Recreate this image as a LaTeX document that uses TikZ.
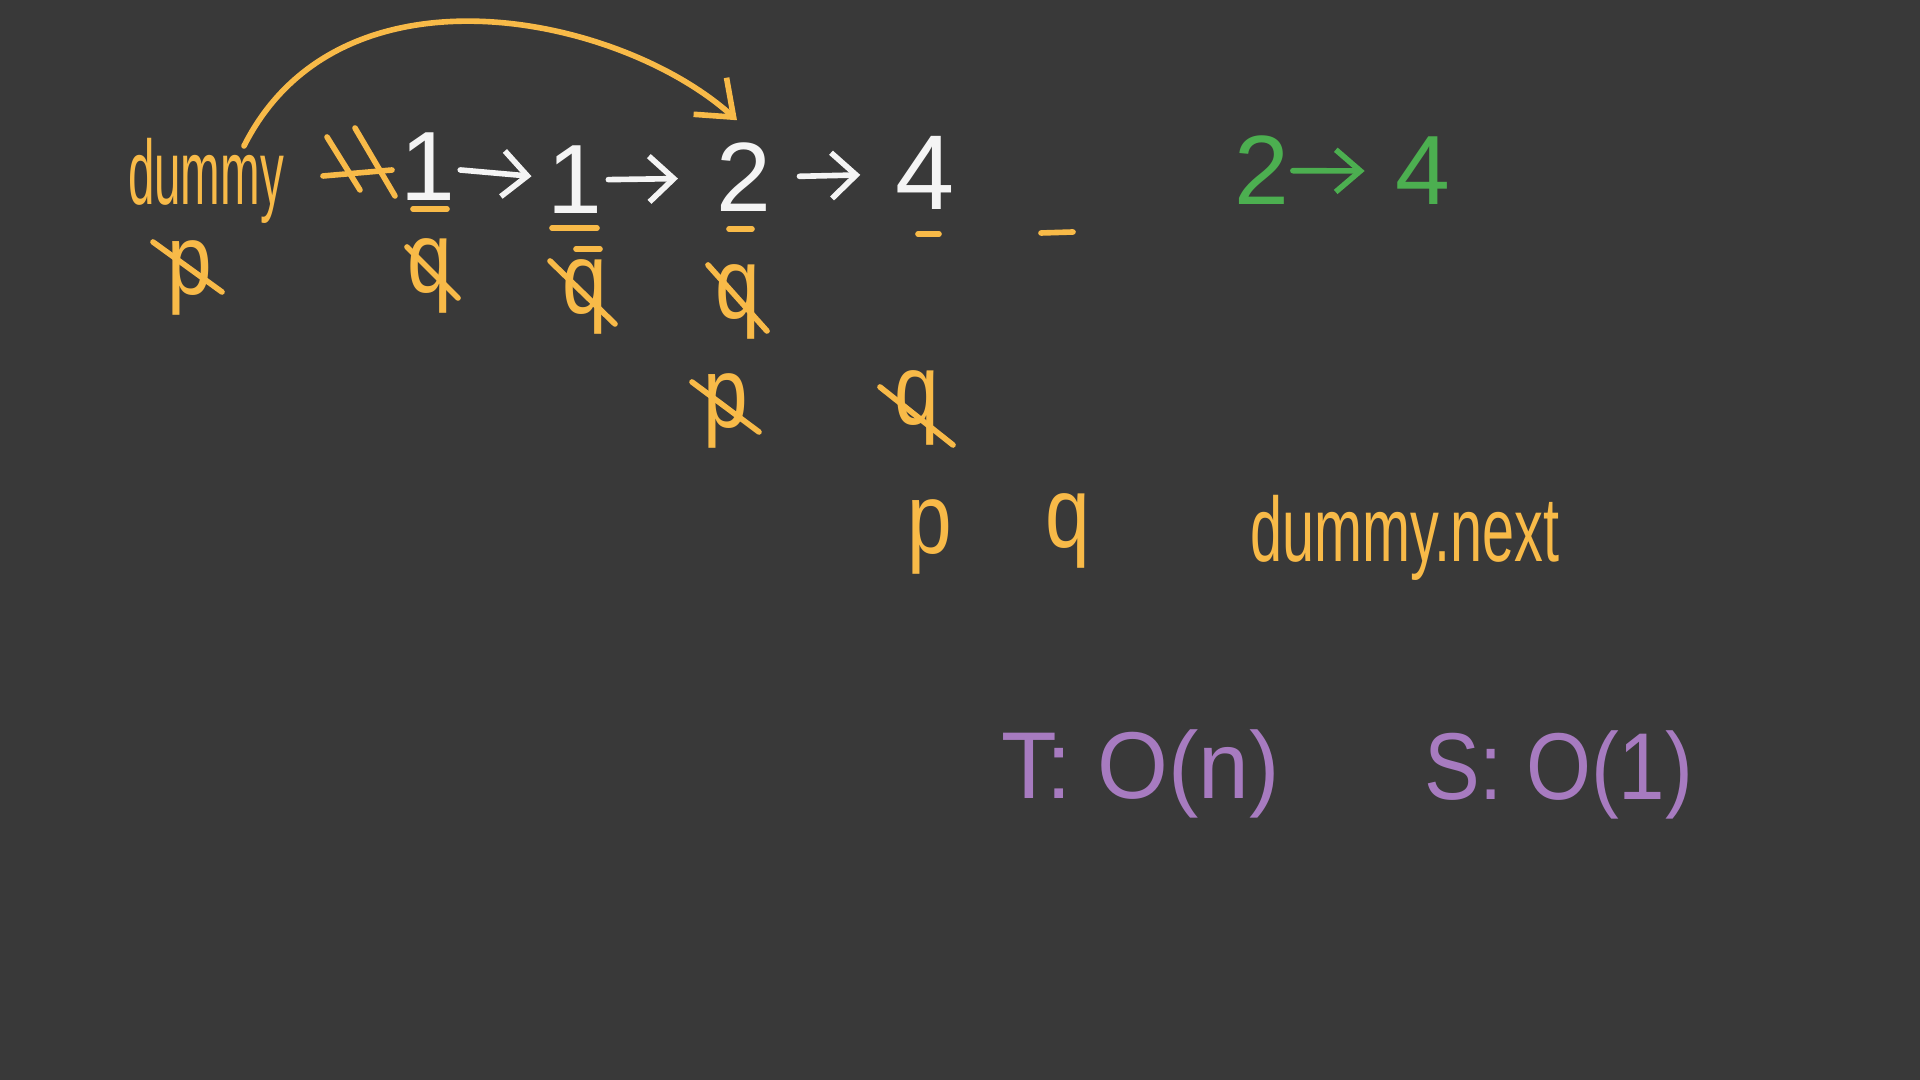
\documentclass[tikz,border=0pt]{standalone}
\usepackage{fontspec}
\setmainfont{Liberation Sans}
\usetikzlibrary{arrows.meta}
\definecolor{bg}{HTML}{393939}
\definecolor{hworange}{HTML}{F8BA48}
\definecolor{hwwhite}{HTML}{F4F4F4}
\definecolor{hwgreen}{HTML}{4CAF50}
\definecolor{hwpurple}{HTML}{A77BC0}
\newcommand{\hwx}[2]{\scalebox{#1}[1]{#2}}
\begin{document}
\begin{tikzpicture}[x=0.01cm,y=-0.01cm,
  every node/.style={inner sep=0pt,outer sep=0pt},
  pen/.style={line width=1.6pt,line cap=round,line join=round},
  opens/.style={pen,draw=hworange},
  wpen/.style={pen,draw=hwwhite,-{Straight Barb[length=7pt,width=13pt]}},
  gpen/.style={pen,draw=hwgreen,-{Straight Barb[length=7pt,width=12pt]}},
  digw/.style={text=hwwhite,font=\fontsize{28}{30}\selectfont},
  digg/.style={text=hwgreen,font=\fontsize{28}{30}\selectfont},
  word/.style={text=hworange,font=\fontsize{26}{28}\selectfont},
  letter/.style={text=hworange,font=\fontsize{28.5}{30}\selectfont},
  cplx/.style={text=hwpurple,font=\fontsize{27}{30}\selectfont}]
\fill[bg] (0,0) rectangle (1920,1080);
\useasboundingbox (0,0) rectangle (1920,1080);

% top row: list
\node[word,anchor=base west] (dummy) at (128,205) {\hwx{0.52}{dummy}};
\node[digw,anchor=base] (n1) at (428,201) {1};
\node[digw,anchor=base] (n2) at (575,214) {1};
\node[digw,anchor=base] (n3) at (744,212) {2};
\node[digw,anchor=base] (n4) at (925,210) {\scalebox{1.08}{4}};
\draw[wpen,shorten <=1.4pt,shorten >=4.6pt] (n1) -- (n2);
\draw[wpen,shorten <=1.7pt,shorten >=11pt] (n2) -- (n3);
\draw[wpen,shorten <=8pt,shorten >=10pt] (n3) -- (n4);

% crossed-out arrow after dummy
\coordinate (xo) at (358,165);
\draw[opens] (xo) ++(-35,11) -- ++(69,-6);
\draw[opens] (xo) ++(-31,-28) -- ++(33,53);
\draw[opens] (xo) ++(-3,-37) -- ++(40,68);

% curved arrow dummy -> 2
\coordinate (arcS) at (244,146);
\coordinate (arcE) at ([shift={(-7,-23)}]n3.north);
\draw[opens,-{Straight Barb[length=9pt,width=14pt]}] (arcS) .. controls (340,-45) and (620,15) .. (arcE);

% orange marks under the list
\draw[opens] ([shift={(-15,8)}]n1.base) -- ++(34,0);
\draw[opens] ([shift={(-23,14)}]n2.base) -- ++(45,0);
\draw[opens] ([shift={(1,35)}]n2.base) -- ++(24,0);
\draw[opens] ([shift={(-15,17)}]n3.base) -- ++(23,0);
\draw[opens] ([shift={(-7,24)}]n4.base) -- ++(21,0);
\draw[opens] ([shift={(116,23)}]n4.base) -- ++(32,-1);

% pointer letters, crossed out
\node[letter] (p1) at (190,278) {\hwx{0.8}{p}};
\draw[opens] (p1) ++(-37,-36) -- ++(69,50);
\node[letter] (q1) at (430,276) {\hwx{0.8}{q}};
\draw[opens] (q1) ++(-23,-29) -- ++(51,51);
\node[letter] (q2) at (585,297) {\hwx{0.8}{q}};
\draw[opens] (q2) ++(-35,-36) -- ++(65,63);
\node[letter] (q3) at (738,302) {\hwx{0.8}{q}};
\draw[opens] (q3) ++(-30,-37) -- ++(59,66);
\node[letter] (p2) at (726,411) {\hwx{0.8}{p}};
\draw[opens] (p2) ++(-34,-29) -- ++(67,50);
\node[letter] (q4) at (917,408) {\hwx{0.8}{q}};
\draw[opens] (q4) ++(-37,-21) -- ++(73,58);

% final pointers
\node[letter] (p3) at (930,537) {\hwx{0.8}{p}};
\node[letter] (q5) at (1068,531) {\hwx{0.8}{q}};
\node[word,anchor=base west] (dnext) at (1250,562) {\hwx{0.63}{dummy.next}};

% green note
\node[digg,anchor=base] (g2) at (1262,205) {2};
\node[digg,anchor=base] (g4) at (1423,205) {4};
\draw[gpen,shorten <=1pt,shorten >=8.8pt] (g2) -- (g4);

% complexity
\node[cplx,anchor=base west] (tc) at (1001,799) {\hwx{0.96}{T: O(n)}};
\node[cplx,anchor=base west] (sc) at (1424,800) {\hwx{0.88}{S: O(1)}};
\end{tikzpicture}
\end{document}
